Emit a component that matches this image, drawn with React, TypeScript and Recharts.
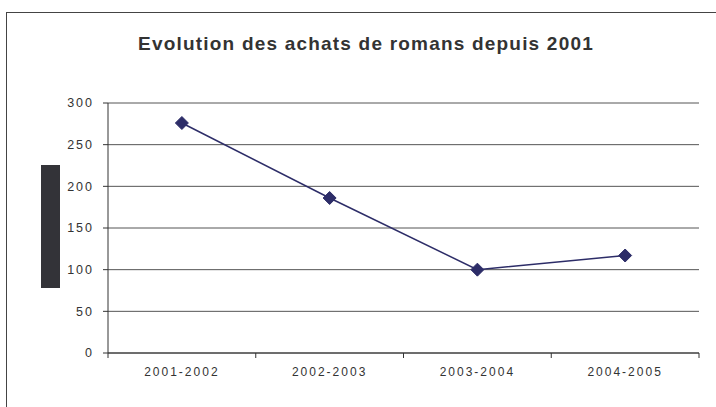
import { LineChart, Line, XAxis, YAxis, CartesianGrid } from "recharts";

const periods = ["2001-2002", "2002-2003", "2003-2004", "2004-2005"];
const purchases = [276, 186, 100, 117];
const yTicks = [0, 50, 100, 150, 200, 250, 300];

const data = periods.map((p, i) => ({ period: p, achats: purchases[i] }));

const W = 716;
const H = 407;
const M = { top: 103, right: 17, left: 0, bottom: 0 };
const Y_W = 108;
const X_H = 54;
const BAND = (W - M.left - M.right - Y_W) / periods.length;
const NAVY = "#2D2D68";
const FONT = "'Liberation Sans', Arial, sans-serif";

function Diamond(props: any) {
  const { cx, cy } = props;
  if (cx == null || cy == null) return null;
  const r = 6.5;
  return (
    <polygon
      points={`${cx},${cy - r} ${cx + r},${cy} ${cx},${cy + r} ${cx - r},${cy}`}
      fill={NAVY}
      stroke={NAVY}
    />
  );
}

function XTick(props: any) {
  const { x, y, payload, index, visibleTicksCount } = props;
  const left = x - BAND / 2;
  const isLast = index === visibleTicksCount - 1;
  return (
    <g>
      <line x1={left} y1={y} x2={left} y2={y + 5} stroke="#333" />
      {isLast && <line x1={x + BAND / 2} y1={y} x2={x + BAND / 2} y2={y + 5} stroke="#333" />}
      <text
        x={x}
        y={y + 23}
        textAnchor="middle"
        fontSize={12}
        fill="#333"
        style={{ letterSpacing: "2px", fontFamily: FONT }}
      >
        {payload.value}
      </text>
    </g>
  );
}

export default function App() {
  return (
    <div
      style={{
        position: "absolute",
        left: 0,
        top: 0,
        width: W,
        height: H,
        overflow: "hidden",
        background: "#fff",
        fontFamily: FONT,
      }}
    >
      {/* outer frame, runs off the right and bottom */}
      <div
        style={{
          position: "absolute",
          left: 6,
          top: 12,
          width: 800,
          height: 500,
          border: "1px solid #444",
        }}
      />
      <div
        style={{
          position: "absolute",
          left: 8,
          top: 33,
          width: W,
          textAlign: "center",
          fontWeight: "bold",
          fontSize: 19,
          letterSpacing: "1.2px",
          color: "#333",
        }}
      >
        Evolution des achats de romans depuis 2001
      </div>
      {/* masked axis title */}
      <div
        style={{
          position: "absolute",
          left: 41,
          top: 165,
          width: 19,
          height: 123,
          background: "#333338",
        }}
      />
      <div style={{ position: "absolute", left: 0, top: 0 }}>
        <LineChart width={W} height={H} data={data} margin={M}>
          <CartesianGrid vertical={false} stroke="#555" horizontalValues={yTicks} />
          <XAxis
            dataKey="period"
            scale="band"
            height={X_H}
            axisLine={{ stroke: "#333" }}
            tickLine={false}
            tickSize={0}
            tickMargin={0}
            tick={<XTick />}
            interval={0}
          />
          <YAxis
            width={Y_W}
            domain={[0, 300]}
            ticks={yTicks}
            axisLine={{ stroke: "#333" }}
            tickLine={{ stroke: "#333" }}
            tickSize={5}
            tickMargin={9}
            tick={{ fontSize: 12.5, fill: "#333", fontFamily: FONT, style: { letterSpacing: "2px" } }}
          />
          <YAxis
            yAxisId="frame"
            orientation="right"
            width={0}
            domain={[0, 300]}
            tick={false}
            tickLine={false}
            axisLine={{ stroke: "#9a9494", strokeWidth: 1.5 }}
          />
          <Line
            dataKey="achats"
            stroke={NAVY}
            strokeWidth={1.5}
            dot={<Diamond />}
            activeDot={false}
            isAnimationActive={false}
          />
        </LineChart>
      </div>
    </div>
  );
}
